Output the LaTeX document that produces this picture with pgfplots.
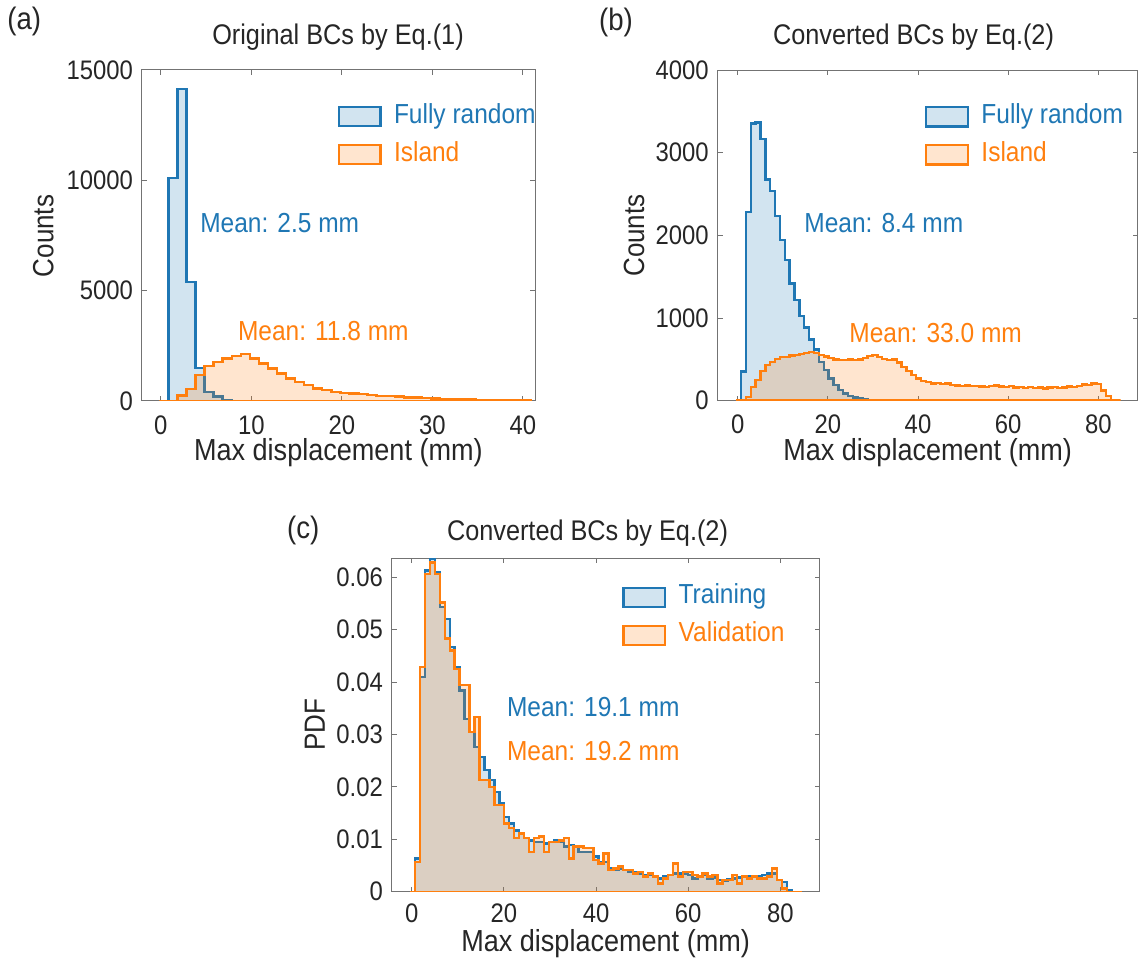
\documentclass[border=0pt]{standalone}
\usepackage{fontspec}
\setmainfont{Liberation Sans}[FakeStretch=0.89]
\usepackage{pgfplots}
\usepackage{pgfplotstable}
\pgfplotsset{compat=1.18}

\definecolor{tabblue}{RGB}{31,119,180}
\definecolor{taborange}{RGB}{255,127,14}
\definecolor{axgray}{RGB}{115,115,115}
\definecolor{txtgray}{RGB}{38,38,38}
\newcommand{\fs}[1]{\fontsize{#1}{#1}\selectfont}

% ---------------- (a) original BCs, bin edges and counts ----------------
\pgfplotstableread{
x y
0.84 10100
1.84 14150
2.84 5380
3.84 1500
4.84 420
5.84 195
6.84 15
7.84 10
8.84 5
9.84 5
}\aRandom
\pgfplotstableread{
x y
-0.16 0
0.84 0
1.84 250
2.84 540
3.84 1170
4.84 1576
5.84 1770
6.84 1920
7.84 2027
8.84 2140
9.84 1930
10.84 1700
11.84 1475
12.84 1250
13.84 1020
14.84 870
15.84 720
16.84 575
17.84 495
18.84 420
19.84 375
20.84 345
21.84 305
22.84 270
23.84 240
24.84 225
25.84 195
26.84 165
27.84 150
28.84 135
29.84 120
30.84 100
31.84 90
32.84 75
33.84 65
34.84 55
35.84 45
36.84 40
37.84 30
38.84 25
39.84 15
40.84 15
}\aIsland

% ---------------- (b) converted BCs, bin edges and counts ----------------
\pgfplotstableread{
x y
0.73 351
1.81 2286
2.89 3355
3.97 3367
5.05 3165
6.13 2677
7.21 2540
8.29 2234
9.37 1943
10.45 1700
11.53 1417
12.61 1215
13.69 1025
14.77 885
15.85 738
16.93 620
18.01 470
19.09 369
20.17 269
21.25 189
22.33 128
23.41 88
24.49 60
25.57 40
26.65 26
27.73 17
28.81 11
29.89 7
30.97 5
32.05 3
33.13 2
34.21 1
35.29 1
}\bRandom
\pgfplotstableread{
x y
-0.35 0
0.73 0
1.81 45
2.89 169
3.97 250
5.05 360
6.13 430
7.21 470
8.29 505
9.37 525
10.45 530
11.53 545
12.61 555
13.69 565
14.77 575
15.85 590
16.93 580
18.01 555
19.09 535
20.17 515
21.25 500
22.33 495
23.41 490
24.49 500
25.57 495
26.65 500
27.73 520
28.81 540
29.89 550
30.97 525
32.05 505
33.13 490
34.21 500
35.29 460
36.37 410
37.45 360
38.53 310
39.61 270
40.69 240
41.77 225
42.85 210
43.93 215
45.01 200
46.09 210
47.17 190
48.25 185
49.33 178
50.41 185
51.49 175
52.57 180
53.65 172
54.73 168
55.81 180
56.89 185
57.97 172
59.05 168
60.13 178
61.21 162
62.29 165
63.37 152
64.45 165
65.53 150
66.61 158
67.69 148
68.77 162
69.85 168
70.93 150
72.01 158
73.09 170
74.17 165
75.25 178
76.33 198
77.41 192
78.49 210
79.57 205
80.65 125
81.73 55
82.81 0
83.89 0
84.97 0
}\bIsland

% ---------------- (c) training / validation PDFs ----------------
\pgfplotstableread{
x y
-0.356 0
0.72 0.0063
1.796 0.0410
2.872 0.0613
3.948 0.0636
5.024 0.0610
6.1 0.0543
7.176 0.0520
8.252 0.0467
9.328 0.0429
10.404 0.0384
11.48 0.0330
12.556 0.0305
13.632 0.0276
14.708 0.0257
15.784 0.0232
16.86 0.0213
17.936 0.0190
19.012 0.0168
20.088 0.0143
21.164 0.0130
22.24 0.0117
23.316 0.0111
24.392 0.0102
25.468 0.0098
26.544 0.0095
27.62 0.0095
28.696 0.0092
29.772 0.0095
30.848 0.0098
31.924 0.0095
33.0 0.0086
34.076 0.0089
35.152 0.0086
36.228 0.0076
37.304 0.0076
38.38 0.0076
39.456 0.0067
40.532 0.0057
41.608 0.0057
42.684 0.0044
43.76 0.0041
44.836 0.0044
45.912 0.0041
46.988 0.0038
48.064 0.0038
49.14 0.0035
50.216 0.0032
51.292 0.0032
52.368 0.0030
53.444 0.0025
54.52 0.0029
55.596 0.0032
56.672 0.0035
57.748 0.0035
58.824 0.0035
59.9 0.0032
60.976 0.0025
62.052 0.0029
63.128 0.0032
64.204 0.0025
65.28 0.0027
66.356 0.0022
67.432 0.0021
68.508 0.0024
69.584 0.0025
70.66 0.0027
71.736 0.0029
72.812 0.0029
73.888 0.0030
74.964 0.0029
76.04 0.0032
77.116 0.0035
78.192 0.0035
79.268 0.0022
80.344 0.0019
81.42 0.0003
82.496 0
83.572 0
84.648 0
}\cTrain
\pgfplotstableread{
x y
-0.356 0
0.72 0.0057
1.796 0.0429
2.872 0.0606
3.948 0.0628
5.024 0.0606
6.1 0.0552
7.176 0.0483
8.252 0.0460
9.328 0.0425
10.404 0.0394
11.48 0.0394
12.556 0.0305
13.632 0.0333
14.708 0.0213
15.784 0.0213
16.86 0.0200
17.936 0.0165
19.012 0.0165
20.088 0.0130
21.164 0.0121
22.24 0.0102
23.316 0.0111
24.392 0.0102
25.468 0.0076
26.544 0.0102
27.62 0.0105
28.696 0.0076
29.772 0.0095
30.848 0.0095
31.924 0.0098
33.0 0.0102
34.076 0.0063
35.152 0.0086
36.228 0.0086
37.304 0.0083
38.38 0.0083
39.456 0.0060
40.532 0.0054
41.608 0.0073
42.684 0.0041
43.76 0.0044
44.836 0.0048
45.912 0.0041
46.988 0.0041
48.064 0.0035
49.14 0.0038
50.216 0.0029
51.292 0.0035
52.368 0.0029
53.444 0.0016
54.52 0.0025
55.596 0.0032
56.672 0.0054
57.748 0.0029
58.824 0.0038
59.9 0.0038
60.976 0.0032
62.052 0.0029
63.128 0.0035
64.204 0.0029
65.28 0.0032
66.356 0.0016
67.432 0.0022
68.508 0.0022
69.584 0.0032
70.66 0.0016
71.736 0.0029
72.812 0.0025
73.888 0.0029
74.964 0.0025
76.04 0.0025
77.116 0.0029
78.192 0.0044
79.268 0.0022
80.344 0.0006
81.42 0
82.496 0
83.572 0
84.648 0
}\cVal

\tikzset{meanlabel/.style={anchor=base west, inner sep=0pt, font=\fs{13.76}}}
\newcommand{\legtext}[2]{\hspace*{6.2pt}\textcolor{#1}{#2}}

\pgfplotsset{
  histaxis/.style={
    scale only axis, anchor=south west,
    axis line style={axgray, line width=0.5pt},
    every tick/.style={axgray, line width=0.5pt},
    major tick length=2.5pt,
    tick align=inside,
    xtick pos=both, ytick pos=both,
    scaled x ticks=false, scaled y ticks=false,
    tick label style={font=\fs{13.4}, text=txtgray, inner sep=0pt},
    yticklabel style={xshift=-4.25pt},
    ymin=0,
    legend cell align=left,
    legend image code/.code={\draw[##1] (0pt,-4.8pt) rectangle (20.8pt,4.8pt);},
    legend style={draw=none, fill=none, inner sep=0pt, outer sep=0pt,
      font=\fs{13.76}, anchor=north west, row sep=7.5pt,
      nodes={inner sep=0pt, text height=9pt, text depth=2.5pt}},
  },
  bluehist/.style={const plot mark left, draw=tabblue, line width=1.2pt,
    fill=tabblue, fill opacity=0.2},
  orangehist/.style={const plot mark left, draw=taborange, line width=1.2pt,
    fill=taborange, fill opacity=0.2},
}

\begin{document}
\begin{tikzpicture}
\useasboundingbox (0pt,0pt) rectangle (570pt,482.5pt);

% ---------- (a) ----------
\begin{axis}[histaxis,
  at={(70.9pt,282pt)}, width=196.6pt, height=165.5pt,
  xmin=-2.09, xmax=41.33, ymax=15000,
  xtick={0,10,20,30,40}, xticklabels={0,10,20,30,40},
  ytick={0,5000,10000,15000}, yticklabels={0,5000,10000,15000},
  xticklabel style={yshift=-7pt},
  legend style={at={(axis description cs:0.498,0.894)}},
]
\addplot[bluehist] table {\aRandom} \closedcycle;
\addlegendentry{\legtext{tabblue}{Fully random}}
\addplot[orangehist] table {\aIsland} \closedcycle;
\addlegendentry{\legtext{taborange}{Island}}
\node[meanlabel, text=tabblue] at (axis cs:4.33,7627) {Mean: 2.5 mm};
\node[meanlabel, text=taborange] at (axis cs:8.49,2733) {Mean: 11.8 mm};
\end{axis}

% ---------- (b) ----------
\begin{axis}[histaxis,
  at={(358.8pt,282.15pt)}, width=209.95pt, height=165.35pt,
  xmin=-4.46, xmax=88.7, ymax=4000,
  xtick={0,20,40,60,80}, xticklabels={0,20,40,60,80},
  ytick={0,1000,2000,3000,4000}, yticklabels={0,1000,2000,3000,4000},
  xticklabel style={yshift=-7pt},
  legend style={at={(axis description cs:0.494,0.893)}},
]
\addplot[bluehist] table {\bRandom} \closedcycle;
\addlegendentry{\legtext{tabblue}{Fully random}}
\addplot[orangehist] table {\bIsland} \closedcycle;
\addlegendentry{\legtext{taborange}{Island}}
\node[meanlabel, text=tabblue] at (axis cs:14.7,2036) {Mean: 8.4 mm};
\node[meanlabel, text=taborange] at (axis cs:24.7,706) {Mean: 33.0 mm};
\end{axis}

% ---------- (c) ----------
\begin{axis}[histaxis,
  at={(195.85pt,36.65pt)}, width=213.9pt, height=166.7pt,
  xmin=-4.34, xmax=88.5, ymax=0.0636,
  xtick={0,20,40,60,80}, xticklabels={0,20,40,60,80},
  ytick={0,0.01,0.02,0.03,0.04,0.05,0.06},
  yticklabels={0,0.01,0.02,0.03,0.04,0.05,0.06},
  xticklabel style={yshift=-5.7pt},
  legend style={at={(axis description cs:0.539,0.917)}},
]
\addplot[bluehist] table {\cTrain} \closedcycle;
\addlegendentry{\legtext{tabblue}{Training}}
\addplot[orangehist] table {\cVal} \closedcycle;
\addlegendentry{\legtext{taborange}{Validation}}
\node[meanlabel, text=tabblue] at (axis cs:20.6,0.03347) {Mean: 19.1 mm};
\node[meanlabel, text=taborange] at (axis cs:20.6,0.02509) {Mean: 19.2 mm};
\end{axis}

% ---------- panel letters, titles and axis labels ----------
\begin{scope}[every node/.style={inner sep=0pt, text=txtgray}]
\node[anchor=base west, font=\fs{15.5}] at (3.5pt,467.5pt) {(a)};
\node[anchor=base west, font=\fs{15.5}] at (299.35pt,467pt) {(b)};
\node[anchor=base west, font=\fs{15.5}] at (143.35pt,213.5pt) {(c)};

\node[anchor=base, font=\fs{14.2}] at (169pt,460pt) {Original BCs by Eq.(1)};
\node[anchor=base, font=\fs{14.2}] at (456.75pt,460pt) {Converted BCs by Eq.(2)};
\node[anchor=base, font=\fs{14.2}] at (293.75pt,212pt) {Converted BCs by Eq.(2)};

\node[anchor=base, font=\fs{15.2}] at (169.2pt,252pt) {Max displacement (mm)};
\node[anchor=base, font=\fs{15.2}] at (463.8pt,252pt) {Max displacement (mm)};
\node[anchor=base, font=\fs{15.2}] at (302.8pt,6.65pt) {Max displacement (mm)};

\node[anchor=base, rotate=90, font=\fs{14.6}] at (26.65pt,364.5pt) {Counts};
\node[anchor=base, rotate=90, font=\fs{14.6}] at (322pt,364.75pt) {Counts};
\node[anchor=base, rotate=90, font=\fs{14.6}] at (162.4pt,120pt) {PDF};
\end{scope}
\end{tikzpicture}
\end{document}
